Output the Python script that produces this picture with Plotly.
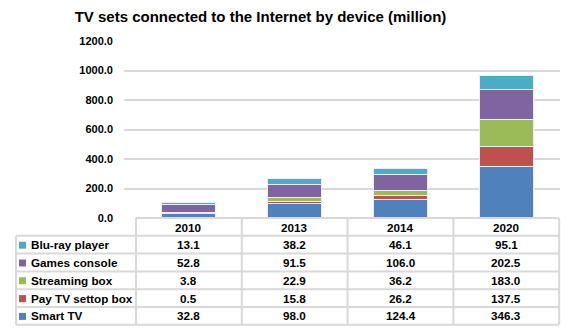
import plotly.graph_objects as go

years = ["2010", "2013", "2014", "2020"]
smart_tv = [32.8, 98.0, 124.4, 346.3]
pay_tv_settop = [0.5, 15.8, 26.2, 137.5]
streaming_box = [3.8, 22.9, 36.2, 183.0]
games_console = [52.8, 91.5, 106.0, 202.5]
bluray_player = [13.1, 38.2, 46.1, 95.1]

series_names = ["Smart TV", "Pay TV settop box", "Streaming box", "Games console", "Blu-ray player"]
series_values = [smart_tv, pay_tv_settop, streaming_box, games_console, bluray_player]
series_colors = ["#4F81BD", "#C0504D", "#9BBB59", "#8064A2", "#4BACC6"]

W, H = 571, 328
PLOT_L, PLOT_R, PLOT_T, PLOT_B = 124, 560, 41, 218
COL0, COLW = 136, 105.8
LABEL_L = 16
ROW_H = 17.8
FONT = "Liberation Sans, Arial, sans-serif"
GRID = "#d9d9d9"

def px_to_x(px):
    # pixel column -> category axis coordinate
    return (px - COL0) / COLW - 0.5

def py_to_paper(py):
    return (PLOT_B - py) / (PLOT_B - PLOT_T)

def px_to_paper(px):
    return (px - PLOT_L) / (PLOT_R - PLOT_L)

fig = go.Figure()
xs = list(range(len(years)))
for name, vals, col in zip(series_names, series_values, series_colors):
    fig.add_trace(go.Bar(
        x=xs, y=vals, name=name, marker=dict(color=col, line=dict(color="#e6eef7", width=1)),
        width=0.51, showlegend=False,
    ))

shapes = []
annotations = []
line = dict(color=GRID, width=2)

header_top = PLOT_B
table_top = PLOT_B + ROW_H  # bottom of year header row
table_bottom = table_top + ROW_H * len(series_names)
table_right = COL0 + COLW * len(years)

def hline(y, x0, x1):
    shapes.append(dict(type="line", xref="paper", yref="paper",
                       x0=px_to_paper(x0), x1=px_to_paper(x1),
                       y0=py_to_paper(y), y1=py_to_paper(y), line=line, layer="above"))

def vline(x, y0, y1):
    shapes.append(dict(type="line", xref="paper", yref="paper",
                       x0=px_to_paper(x), x1=px_to_paper(x),
                       y0=py_to_paper(y0), y1=py_to_paper(y1), line=line, layer="above"))

hline(header_top, COL0, table_right)
for i in range(len(series_names) + 1):
    hline(table_top + i * ROW_H, LABEL_L, table_right)
vline(LABEL_L, table_top, table_bottom)
for j in range(len(years) + 1):
    vline(COL0 + j * COLW, header_top, table_bottom)

tfont = dict(family=FONT, size=11.7, color="#000000")

# year headers
for j, yr in enumerate(years):
    annotations.append(dict(x=j, y=py_to_paper(header_top + ROW_H / 2 + 0.5), xref="x", yref="paper",
                            text="<b>%s</b>" % yr, showarrow=False, font=tfont,
                            xanchor="center", yanchor="middle"))

# rows: top row is the last series (legend order matches stacking top-down)
for r, idx in enumerate(reversed(range(len(series_names)))):
    yc = table_top + ROW_H * r + ROW_H / 2
    name, vals, col = series_names[idx], series_values[idx], series_colors[idx]
    shapes.append(dict(type="rect", xref="paper", yref="paper",
                       x0=px_to_paper(19), x1=px_to_paper(26),
                       y0=py_to_paper(yc - 3), y1=py_to_paper(yc + 4),
                       fillcolor=col, line=dict(width=0), layer="above"))
    annotations.append(dict(x=px_to_paper(29), y=py_to_paper(yc), xref="paper", yref="paper",
                            text="<b>%s</b>" % name, showarrow=False, font=tfont,
                            xanchor="left", yanchor="middle"))
    for j, v in enumerate(vals):
        annotations.append(dict(x=j, y=py_to_paper(yc), xref="x", yref="paper",
                                text="<b>%.1f</b>" % v, showarrow=False, font=tfont,
                                xanchor="center", yanchor="middle"))

fig.update_layout(
    width=W, height=H,
    margin=dict(l=PLOT_L, r=W - PLOT_R, t=PLOT_T, b=H - PLOT_B, pad=0),
    barmode="stack",
    bargap=0.49,
    plot_bgcolor="white", paper_bgcolor="white",
    title=dict(text="<b>TV sets connected to the Internet by device (million)</b>",
               x=260.5 / W, xanchor="center",
               y=1 - 16.5 / H, yanchor="middle",
               font=dict(family=FONT, size=15, color="#000000")),
    xaxis=dict(range=[px_to_x(PLOT_L), px_to_x(PLOT_R)], showticklabels=False, showgrid=False,
               zeroline=False, showline=False, fixedrange=True),
    yaxis=dict(range=[0, 1200], dtick=200, tickformat=".1f", showgrid=True, gridcolor=GRID,
               gridwidth=1.5, zeroline=False, showline=False,
               tickfont=dict(family=FONT, size=11, color="#000000"),
               ticklabelstandoff=10, fixedrange=True),
    shapes=shapes, annotations=annotations,
    font=dict(family=FONT),
)
fig.update_yaxes(tickprefix="<b>", ticksuffix="</b>")

fig.write_html("out.html")
